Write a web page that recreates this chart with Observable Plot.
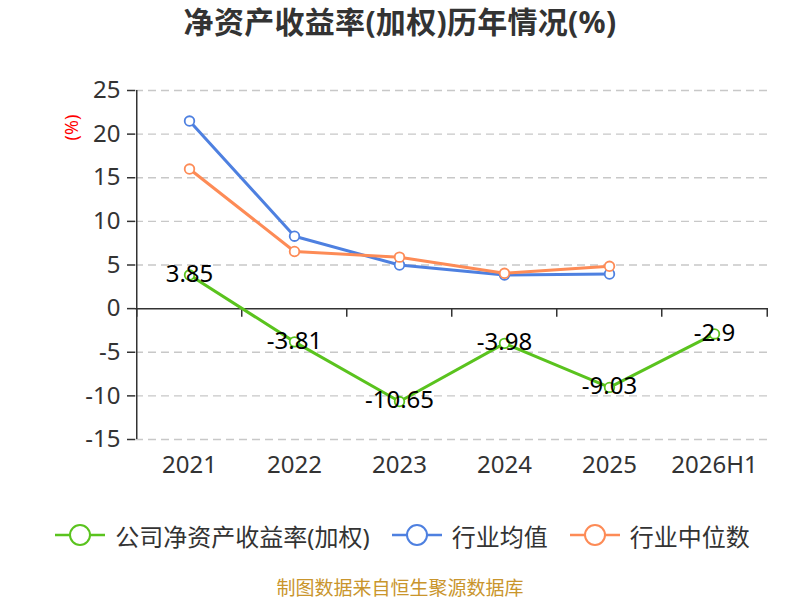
<!DOCTYPE html>
<html>
<head>
<meta charset="utf-8">
<script src="https://cdn.jsdelivr.net/npm/d3@7"></script>
<script src="https://cdn.jsdelivr.net/npm/@observablehq/plot@0.6"></script>
<style>
  html, body { margin: 0; padding: 0; background: #fff; }
  body { width: 800px; height: 600px; overflow: hidden; position: relative; font-family: "Noto Sans", "Noto Sans CJK SC", sans-serif; }
  #title { height: 50px; line-height: 44px; text-align: center; font-size: 30px; font-weight: bold; color: #333; letter-spacing: 0.3px; }
  #chart svg { display: block; }
  #legend { height: 70px; display: flex; justify-content: center; align-items: center; font-size: 24px; color: #333; padding-left: 5px; box-sizing: border-box; }
  .item { display: flex; align-items: center; margin: 0 11px; }
  .item svg { margin-right: 10px; }
  #source { position: absolute; left: 0; top: 576px; width: 800px; height: 24px; line-height: 24px; text-align: center; font-size: 19px; color: #c9952c; }
</style>
</head>
<body>
<div id="title">净资产收益率(加权)历年情况(%)</div>
<div id="chart"></div>
<div id="legend"></div>
<div id="source">制图数据来自恒生聚源数据库</div>
<script>
const years = ["2021", "2022", "2023", "2024", "2025", "2026H1"];
const companyROE = [3.85, -3.81, -10.65, -3.98, -9.03, -2.9];
const industryAvg = [21.5, 8.3, 5.0, 3.86, 3.97];
const industryMedian = [16.0, 6.55, 5.9, 4.05, 4.85];
const yTicks = [-15, -10, -5, 0, 5, 10, 15, 20, 25];
const seriesNames = ["公司净资产收益率(加权)", "行业均值", "行业中位数"];
const colors = ["#5ac31e", "#4e80e0", "#fd8b56"];

const W = 800, H = 450, mL = 135, mR = 32, mT = 40, mB = 61;
const step = (W - mL - mR) / years.length;
const FONT = '"Noto Sans", "Noto Sans CJK SC", sans-serif';

const company = years.map((x, i) => ({x, y: companyROE[i]}));
const avg = industryAvg.map((y, i) => ({x: years[i], y}));
const med = industryMedian.map((y, i) => ({x: years[i], y}));

const plot = Plot.plot({
  width: W, height: H,
  marginLeft: mL, marginRight: mR, marginTop: mT, marginBottom: mB,
  style: {fontFamily: FONT, color: "#333", background: "#fff"},
  x: {type: "point", domain: years, padding: 0.5, axis: null},
  y: {domain: [-15, 25], axis: null},
  marks: [
    Plot.gridY(yTicks.filter(t => t !== 0), {stroke: "#c8c8c8", strokeOpacity: 1, strokeWidth: 1.3, strokeDasharray: "8,5"}),
    Plot.axisY({ticks: yTicks, tickFormat: d => String(d), tickSize: 8, tickPadding: 7, fontSize: 24, stroke: "#333", strokeWidth: 1.5, fill: "#333", label: null}),
    Plot.axisX({tickSize: 0, tickPadding: 16, fontSize: 24, fill: "#333", label: null}),
    Plot.ruleX([years[0]], {x: d => d, y1: -15, y2: 25, dx: -step / 2, stroke: "#333", strokeWidth: 1.5}),
    Plot.ruleY([0], {stroke: "#333", strokeWidth: 1.5}),
    Plot.ruleX(years, {x: d => d, y1: 0, y2: -1, dx: -step / 2, stroke: "#333", strokeWidth: 1.5}),
    Plot.ruleX([years[years.length - 1]], {x: d => d, y1: 0, y2: -1, dx: step / 2, stroke: "#333", strokeWidth: 1.5}),
    Plot.text(["(%)"], {frameAnchor: "top-left", dx: -63, dy: 37, rotate: -90, textAnchor: "middle", lineAnchor: "middle", fill: "red", fontSize: 18, text: d => d}),
    Plot.line(avg, {x: "x", y: "y", stroke: colors[1], strokeWidth: 3}),
    Plot.line(med, {x: "x", y: "y", stroke: colors[2], strokeWidth: 3}),
    Plot.line(company, {x: "x", y: "y", stroke: colors[0], strokeWidth: 3}),
    Plot.dot(avg, {x: "x", y: "y", r: 4.8, fill: "#fff", stroke: colors[1], strokeWidth: 1.8}),
    Plot.dot(med, {x: "x", y: "y", r: 4.8, fill: "#fff", stroke: colors[2], strokeWidth: 1.8}),
    Plot.dot(company, {x: "x", y: "y", r: 4.8, fill: "#fff", stroke: colors[0], strokeWidth: 1.8}),
    Plot.text(company, {x: "x", y: "y", text: d => String(d.y), fontSize: 24, fill: "#000", dy: -1})
  ]
});
document.getElementById("chart").appendChild(plot);

const legend = document.getElementById("legend");
seriesNames.forEach((name, i) => {
  const item = document.createElement("div");
  item.className = "item";
  item.innerHTML = `<svg width="50" height="26" viewBox="0 0 50 26">
    <line x1="0" y1="13" x2="50" y2="13" stroke="${colors[i]}" stroke-width="2.5"/>
    <circle cx="25" cy="13" r="10" fill="#fff" stroke="${colors[i]}" stroke-width="2"/>
  </svg><span>${name}</span>`;
  legend.appendChild(item);
});
</script>
</body>
</html>
